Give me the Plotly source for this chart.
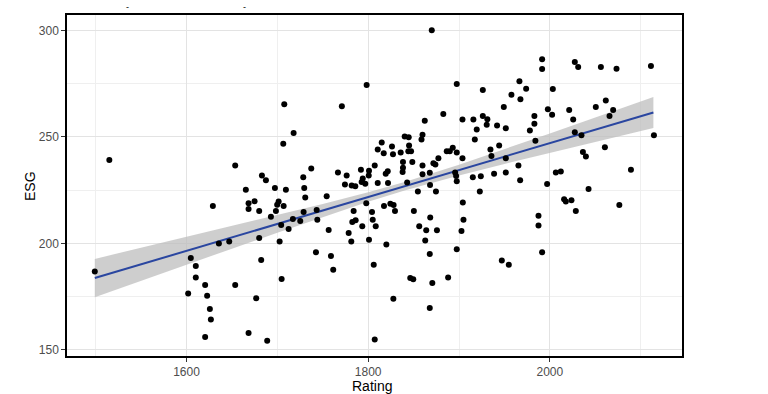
import plotly.graph_objects as go

# Scatter data (Rating, ESG)
rating = [1499, 1515, 1604.7, 1610.2, 1610.2, 1601.8, 1620.5, 1622.7, 1625.7, 1626.8,
          1620.5, 1629, 1635.6, 1647, 1653.6, 1653.6, 1665.3, 1668.3, 1668.3, 1674.9,
          1680, 1680, 1682.2, 1676.7, 1668.3, 1688.8, 1683, 1687.4, 1692.9, 1698.4,
          1699.8, 1701.4, 1706.9, 1704.2, 1702.5, 1712.4, 1704.7, 1717.1, 1725.2, 1728.9,
          1697.3, 1709.4, 1729.6, 1730.7, 1728.5, 1737.3, 1707.6, 1717.9, 1706.5, 1743.3,
          1744, 1742.5, 1754.3, 1756.5, 1759, 1761.5, 1771, 1766.7, 1776.3, 1774.4,
          1781.8, 1785.8, 1778.5, 1781.4, 1784, 1782.5, 1786.2, 1793.5, 1797.9, 1800.9,
          1804.2, 1805, 1808.3, 1806.1, 1807.2, 1798.3, 1792, 1800.9, 1807.2, 1810.5,
          1814.9, 1817.1, 1826.2, 1827.3, 1794, 1792.8, 1796.8, 1800.6, 1810.5, 1819.3,
          1821.5, 1821.8, 1817.4, 1820, 1824.4, 1828, 1829.5, 1827.7, 1850.3, 1856.2,
          1863.9, 1868.3, 1875.7, 1862.8, 1867.8, 1846.3, 1849.6, 1870.6, 1888, 1867.8,
          1897.5, 1902.7, 1904.9, 1904.2, 1915.2, 1924, 1922.9, 1938.6, 1951.5, 1965.4,
          1967.3, 1997, 2006.6, 2012.1, 1987.5, 1987.5, 1991.5, 1947.1, 1954.8, 2015.7,
          2017.6, 2023.8, 2028.6, 2042.6, 2076.5, 2089.3, 1854.7, 1874.6, 1870, 1991.5,
          1991.5, 2027.5, 2031.2, 2056.2, 2073.4, 2111.3, 1897.5, 1966.5, 1973.9, 2003.3,
          1926.2, 1957.7, 1967.6, 1949.3, 1997.8, 2002.5, 2021.3, 2025.7, 2050.6, 2061.6,
          2069.7, 2065.7, 1882.7, 1862.3, 1903.8, 1915.8, 1926.2, 1931.2, 1930.5, 1919.5,
          1941.9, 1951.5, 1983, 1983, 1978, 1984.1, 2027.5, 2034.8, 2114.6, 2060.6,
          2036.4, 2039.7, 1934.6, 1935.7, 1944.2, 1951.5, 1897.5, 1903.8, 1886.5, 1889.8,
          1893.1, 1897.5, 1877.3, 1871.8, 1874, 1859.8, 1859.8, 1868.1, 1895.7, 1896.8,
          1840.2, 1844.6, 1859.8, 1858.7, 1835.8, 1845, 1844.2, 1847.2, 1838.3, 1848.6,
          1837.9, 1842.9, 1917.4, 1867.8, 1838.3]
esg = [186.8, 239.1, 193.1, 189.3, 184.0, 176.4, 180.4, 175.4, 169.2, 164.2,
       156.0, 217.5, 199.9, 200.8, 180.4, 236.5, 225.2, 218.8, 216.1, 219.7,
       215.2, 202.5, 192.2, 174.2, 157.9, 154.3, 231.9, 229.6, 212.5, 215.2,
       218.1, 219.6, 217.5, 208.6, 200.8, 206.7, 183.2, 211.4, 210.5, 214.7,
       226.0, 225.2, 226.0, 221.5, 231.0, 235.1, 265.3, 251.8, 246.8, 215.6,
       211.1, 195.8, 222.1, 206.2, 194.1, 187.6, 264.3, 233.3, 231.9, 227.6,
       227.1, 226.8, 204.8, 200.8, 215.2, 210.0, 210.8, 208.0, 218.8, 201.7,
       214.7, 211.1, 208.0, 190.0, 154.8, 274.3, 234.6, 234.1, 236.5, 244.1,
       247.3, 242.3, 245.5, 241.8, 230.4, 228.8, 228.0, 231.9, 228.3, 232.7,
       233.8, 228.3, 217.5, 199.4, 218.6, 218.0, 215.2, 174.0, 215.2, 208.0,
       206.1, 212.1, 206.1, 201.3, 195.0, 183.7, 183.1, 181.4, 184.0, 169.6,
       197.2, 205.8, 211.1, 219.2, 231.0, 231.5, 224.3, 232.7, 233.2, 236.5,
       229.6, 227.8, 233.2, 233.7, 213.0, 208.4, 195.8, 191.9, 190.0, 220.7,
       219.6, 220.2, 215.2, 225.5, 218.0, 234.6, 224.3, 224.3, 300.0, 286.4,
       281.8, 285.1, 282.8, 282.8, 282.0, 283.2, 274.8, 276.1, 272.6, 272.5,
       272.0, 269.8, 267.6, 264.0, 263.0, 260.4, 262.6, 258.1, 264.0, 267.1,
       262.6, 259.8, 260.7, 257.6, 258.1, 258.1, 259.8, 258.2, 255.7, 253.5,
       255.3, 254.0, 259.8, 256.2, 253.0, 248.2, 252.1, 250.8, 250.8, 245.1,
       242.9, 240.8, 244.1, 241.0, 245.9, 240.0, 229.1, 240.0, 243.2, 243.2,
       244.9, 242.7, 240.0, 237.6, 237.0, 236.5, 232.4, 227.4, 233.2, 231.6,
       250.1, 249.8, 251.0, 248.8, 242.6, 245.9, 243.2, 243.2, 238.2, 238.2,
       233.5, 228.5, 248.7, 233.1, 235.5]

# Linear fit line and its confidence band
fit_x = [1499, 1550, 1600, 1650, 1700, 1750, 1800, 1841, 1900, 1950, 2000, 2050, 2114]
fit_y = [183.7, 190.15, 196.47, 202.79, 209.11, 215.43, 221.75, 226.93, 234.39, 240.71,
         247.03, 253.35, 261.44]
band_half = [9.0, 7.73, 6.5, 5.3, 4.14, 3.08, 2.26, 2.0, 2.51, 3.44, 4.55, 5.73, 7.29]

x_ticks = [1600, 1800, 2000]
y_ticks = [150, 200, 250, 300]

upper = [f + h for f, h in zip(fit_y, band_half)]
lower = [f - h for f, h in zip(fit_y, band_half)]

fig = go.Figure()
fig.add_trace(go.Scatter(
    x=fit_x + fit_x[::-1], y=upper + lower[::-1],
    fill="toself", fillcolor="rgba(190,190,190,0.75)",
    line=dict(width=0), mode="lines", hoverinfo="skip", showlegend=False))
fig.add_trace(go.Scatter(
    x=fit_x, y=fit_y, mode="lines",
    line=dict(color="#2a46a0", width=2), showlegend=False))
fig.add_trace(go.Scatter(
    x=rating, y=esg, mode="markers",
    marker=dict(color="black", size=6), showlegend=False))

axis_common = dict(
    showline=True, linecolor="black", linewidth=1.5, mirror=True,
    showgrid=True, gridcolor="#e3e3e3", gridwidth=1,
    ticks="outside", ticklen=4, tickcolor="#333333", tickwidth=1,
    tickfont=dict(family="Liberation Sans, Arial, sans-serif", size=12, color="#4d4d4d"),
    zeroline=False,
)

fig.update_xaxes(
    range=[1468.4, 2145.5], tickvals=x_ticks, ticktext=[str(v) for v in x_ticks],
    minor=dict(showgrid=True, gridcolor="#efefef", gridwidth=1, tickvals=[1500, 1700, 1900, 2100]),
    **axis_common)
fig.update_yaxes(
    range=[147.1, 307.2], tickvals=y_ticks, ticktext=[str(v) for v in y_ticks],
    minor=dict(showgrid=True, gridcolor="#efefef", gridwidth=1, tickvals=[175, 225, 275]),
    **axis_common)

fig.update_layout(
    width=768, height=394,
    margin=dict(l=67, r=86, t=15, b=38),
    paper_bgcolor="white", plot_bgcolor="white",
    font=dict(family="Liberation Sans, Arial, sans-serif", color="black"),
    annotations=[
        dict(text="Rating", xref="paper", yref="paper", x=0.496, y=-0.087,
             xanchor="center", yanchor="middle", showarrow=False,
             font=dict(size=14, color="black")),
        dict(text="ESG", xref="paper", yref="paper", x=-0.061, y=0.5,
             xanchor="center", yanchor="middle", textangle=-90, showarrow=False,
             font=dict(size=14, color="black")),
        dict(text="-", xref="paper", yref="paper", x=0.098, y=1.022,
             xanchor="center", yanchor="middle", showarrow=False,
             font=dict(size=9, color="black")),
        dict(text="-", xref="paper", yref="paper", x=0.289, y=1.022,
             xanchor="center", yanchor="middle", showarrow=False,
             font=dict(size=9, color="black")),
    ],
)

fig.write_html(
    "out.html",
    config={"displayModeBar": False},
    post_script="document.body.style.margin='0px';document.body.style.overflow='hidden';",
)
